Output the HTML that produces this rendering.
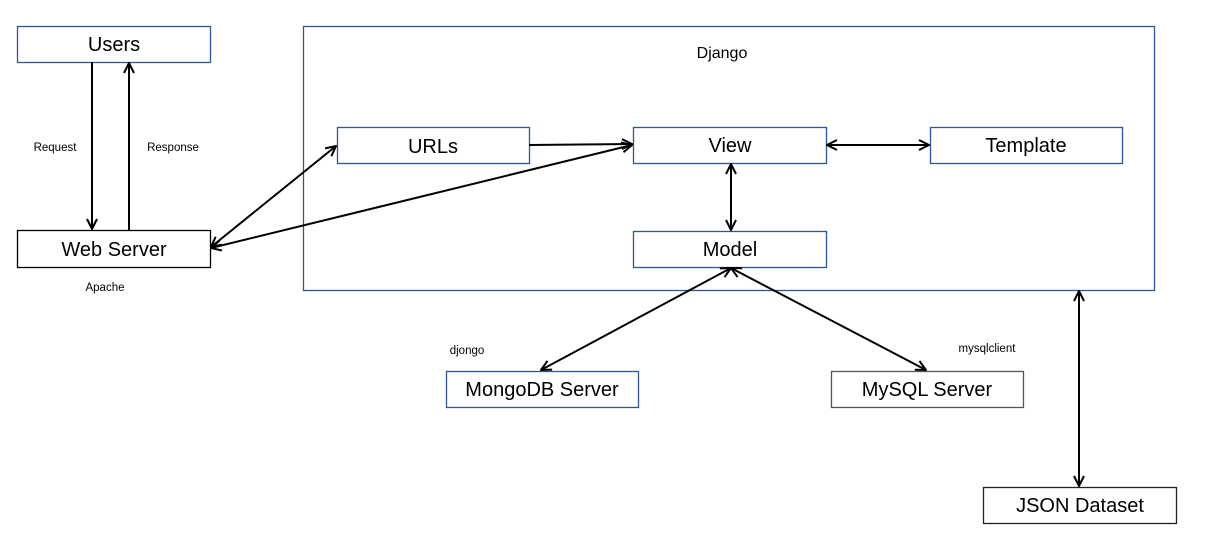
<!DOCTYPE html>
<html><head><style>
body{margin:0;background:#fff;width:1208px;height:555px;overflow:hidden;font-family:"Liberation Sans",sans-serif}
</style></head><body>
<svg width="1208" height="555" xmlns="http://www.w3.org/2000/svg">
<defs>
<marker id="a" viewBox="0 0 12 12" refX="11" refY="6" markerWidth="12" markerHeight="12" markerUnits="userSpaceOnUse" orient="auto-start-reverse">
<path d="M1,1 L11,6 L1,11" fill="none" stroke="#000" stroke-width="2"/>
</marker>
</defs>
<g fill="#fff" stroke="#2F5597" stroke-width="1.3">
<rect x="303.5" y="26.5" width="851" height="264"/>
<rect x="17.5" y="26.5" width="193" height="36"/>
<rect x="337.5" y="127.5" width="192" height="36"/>
<rect x="633.5" y="127.5" width="193" height="36"/>
<rect x="930.5" y="127.5" width="192" height="36"/>
<rect x="633.5" y="231.5" width="193" height="36"/>
<rect x="446.5" y="371.5" width="192" height="36"/>
</g>
<g fill="#fff" stroke="#333" stroke-width="1.3">
<rect x="17.5" y="230.5" width="193" height="37" stroke="#000"/>
<rect x="831.5" y="371.5" width="192" height="36" stroke="#555"/>
<rect x="983.5" y="487.5" width="193" height="36" stroke="#222"/>
</g>
<g stroke="#000" stroke-width="2" fill="none">
<line x1="92" y1="62" x2="92" y2="229" marker-end="url(#a)"/>
<line x1="129" y1="230" x2="129" y2="63" marker-end="url(#a)"/>
<line x1="211" y1="247" x2="336" y2="146" marker-start="url(#a)" marker-end="url(#a)"/>
<line x1="211" y1="248" x2="632" y2="145" marker-start="url(#a)" marker-end="url(#a)"/>
<line x1="529" y1="145" x2="632" y2="144" marker-end="url(#a)"/>
<line x1="827" y1="145" x2="929" y2="145" marker-start="url(#a)" marker-end="url(#a)"/>
<line x1="731" y1="164" x2="731" y2="230" marker-start="url(#a)" marker-end="url(#a)"/>
<line x1="731" y1="268" x2="541" y2="370" marker-start="url(#a)" marker-end="url(#a)"/>
<line x1="731" y1="268" x2="926" y2="370" marker-start="url(#a)" marker-end="url(#a)"/>
<line x1="1079" y1="291" x2="1079" y2="486" marker-start="url(#a)" marker-end="url(#a)"/>
</g>
<g font-family="Liberation Sans, sans-serif" fill="#000" text-anchor="middle" font-size="20">
<text x="114" y="51">Users</text>
<text x="114" y="256">Web Server</text>
<text x="433" y="153">URLs</text>
<text x="730" y="152">View</text>
<text x="1026" y="152">Template</text>
<text x="730" y="256">Model</text>
<text x="542" y="396">MongoDB Server</text>
<text x="927" y="396">MySQL Server</text>
<text x="1080" y="512">JSON Dataset</text>
<text x="722" y="58" font-size="16">Django</text>
</g>
<g font-family="Liberation Sans, sans-serif" fill="#000" text-anchor="middle" font-size="11.5">
<text x="55" y="151">Request</text>
<text x="173" y="151">Response</text>
<text x="105" y="291">Apache</text>
<text x="467" y="354">djongo</text>
<text x="987" y="352">mysqlclient</text>
</g>
</svg>
</body></html>
